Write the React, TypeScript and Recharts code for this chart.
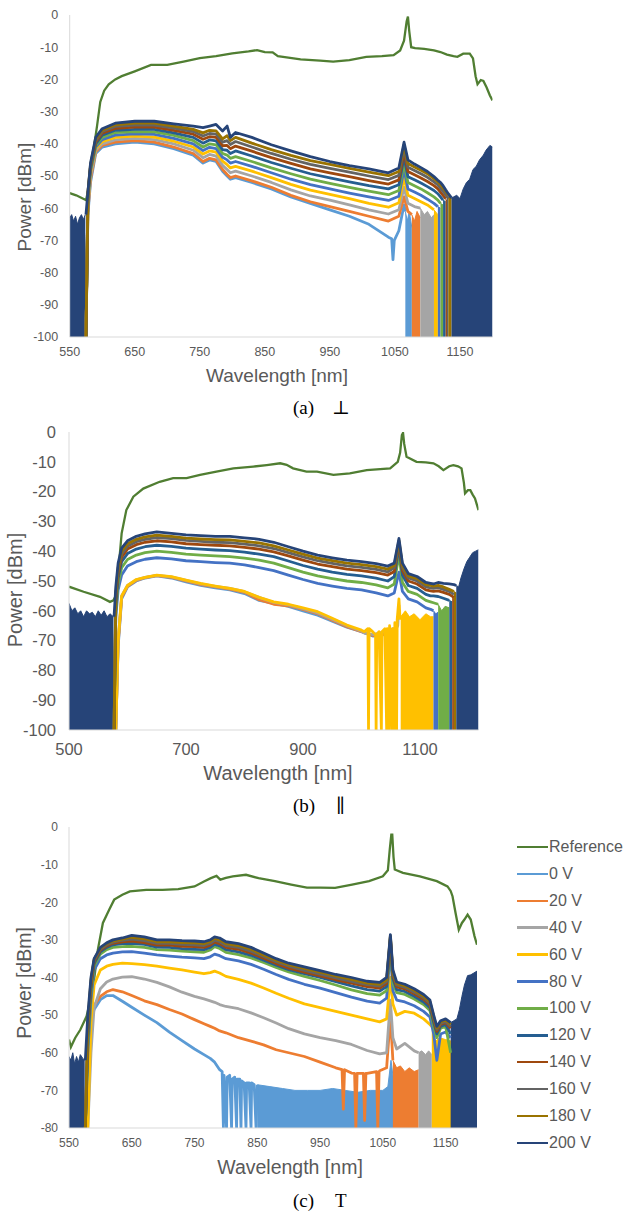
import React from 'react';
import { ComposedChart, Line, Area, XAxis, YAxis } from 'recharts';

type Pair = [number, number];
type Val = number | null;

// ---------- shared ----------
const SERIES = ['0 V', '20 V', '40 V', '60 V', '80 V', '100 V', '120 V', '140 V', '160 V', '180 V', '200 V'];
const SERIES_COLORS = ['#5B9BD5', '#ED7D31', '#A5A5A5', '#FFC000', '#4472C4', '#70AD47', '#255E91', '#9E480E', '#636363', '#997300', '#264478'];
const REF_NAME = 'Reference';
const REF_COLOR = '#507E32';

const X_TICKS_A = [550, 650, 750, 850, 950, 1050, 1150];
const X_TICKS_B = [500, 700, 900, 1100];
const X_TICKS_C = [550, 650, 750, 850, 950, 1050, 1150];
const Y_TICKS_AB = [0, -10, -20, -30, -40, -50, -60, -70, -80, -90, -100];
const Y_TICKS_C = [0, -10, -20, -30, -40, -50, -60, -70, -80];

// ---------- panel (a) ----------
const A_WL = [575, 578, 582, 590, 600, 620, 650, 680, 710, 740, 755, 765, 775, 785, 792, 797, 805, 830, 860, 890, 920, 950, 980, 1010, 1040, 1056, 1064, 1070, 1080, 1090, 1100, 1110, 1116, 1120, 1124, 1128, 1132, 1137];
const A_V0: Val[] = [-100, -62, -52, -43, -41, -40, -39.5, -40, -41.5, -43.5, -46, -45, -45.5, -48.5, -50, -51, -50.5, -52, -54, -56.5, -58.5, -60.5, -62.5, -65, -69, -67, -59];
const A_V20: Val[] = [-100, -61, -51, -42.5, -40.5, -39.5, -39, -39.5, -41, -43, -45.5, -44.5, -45, -48, -49.5, -50.5, -50, -51.5, -53.5, -56, -58, -59.5, -61, -62.5, -64, -62.5, -56.5, -61];
const A_V40: Val[] = [-100, -60, -50, -42, -40, -38.8, -38.3, -38.7, -40, -42, -44.3, -43.3, -43.8, -46.7, -48, -49, -48.5, -50, -52, -54.3, -56.2, -57.5, -59, -60.5, -61.8, -60.5, -53.5, -58.5, -59.5];
const A_V60: Val[] = [-100, -59, -49, -41.5, -39.3, -38, -37.6, -37.9, -39.2, -41, -43.2, -42.2, -42.6, -45.4, -46.5, -47.5, -47, -48.5, -50.5, -52.6, -54.4, -55.7, -57, -58.5, -59.7, -58.3, -50.5, -56, -57, -58, -59, -60.5];
const A_V80: Val[] = [-100, -58, -48.5, -41, -38.7, -37.3, -36.9, -37.1, -38.3, -40, -42.1, -41.1, -41.5, -44.2, -45, -46, -45.5, -47, -49, -51, -52.7, -54, -55.3, -56.5, -57.6, -56.3, -48, -54, -55, -56, -57.2, -58.5, -59.5];
const A_V100: Val[] = [-100, -57, -48, -40.5, -38, -36.5, -36.2, -36.3, -37.4, -39, -41, -40, -40.3, -43, -43.5, -44.5, -44, -45.5, -47.5, -49.3, -51, -52.3, -53.5, -54.7, -55.8, -54.5, -46, -52, -53, -54, -55.2, -56.5, -57.5, -58.5];
const A_V120: Val[] = [-100, -56, -47.5, -40, -37.3, -35.8, -35.5, -35.5, -36.6, -38, -39.8, -38.8, -39.1, -41.8, -42, -43, -42.2, -43.8, -45.8, -47.6, -49.3, -50.6, -51.8, -53, -54, -52.7, -44.2, -50.2, -51.2, -52.2, -53.3, -54.5, -55.5, -56.5, -57.5];
const A_V140: Val[] = [-100, -56, -47, -39.5, -36.7, -35.2, -34.8, -34.8, -35.8, -37, -38.6, -37.8, -38, -40.6, -40.5, -41.5, -40.7, -42.3, -44.3, -46.1, -47.8, -49, -50.2, -51.4, -52.5, -51.2, -42.6, -48.6, -49.6, -50.6, -51.7, -53, -54, -55, -56, -57];
const A_V160: Val[] = [-100, -55, -47, -39, -36.2, -34.6, -34.2, -34.2, -35.1, -36.2, -37.6, -36.8, -37, -39.5, -39, -40.2, -39.3, -41, -43, -44.8, -46.4, -47.6, -48.8, -50, -51.1, -49.8, -41.3, -47.3, -48.3, -49.3, -50.4, -51.8, -52.8, -53.8, -54.8, -55.8, -57];
const A_V180: Val[] = [-100, -55, -46.5, -38.5, -35.8, -34.1, -33.6, -33.6, -34.5, -35.5, -36.6, -35.8, -36, -38.5, -37.5, -39, -38, -39.8, -41.8, -43.6, -45.2, -46.4, -47.6, -48.8, -49.9, -48.6, -40.3, -46.1, -47.2, -48.2, -49.3, -50.8, -51.8, -52.7, -53.7, -54.8, -56];
const A_V200: Val[] = [-62, -55, -46, -38, -35.3, -33.6, -33, -33, -33.8, -34.5, -35, -34.5, -34, -36, -34.5, -38, -36.5, -38, -40.3, -42.2, -44, -45.5, -46.8, -47.8, -49, -47.5, -39.5, -45, -46.3, -47.4, -48.6, -50.2, -51.3, -52, -53, -54.3, -55.5, -56.8];
const A_X0: Pair[] = [[1045, -69.5], [1047, -76], [1049, -70], [1066, -61]];
const A_X20: Pair[] = [[1076, -62]];
const A_X40: Pair[] = [[1089, -60]];
const A_F0: Pair[] = [[1066, -61], [1069, -64], [1072, -61], [1076, -66]];
const A_F20: Pair[] = [[1076, -62], [1080, -64], [1084, -61], [1089, -63]];
const A_F40: Pair[] = [[1089, -60], [1095, -62], [1100, -61], [1106, -63], [1110, -62]];
const A_F60: Pair[] = [[1110, -60.5], [1116, -62]];
const A_F80: Pair[] = [[1116, -59.5], [1120, -60]];
const A_F100: Pair[] = [[1120, -58.5], [1124, -59]];
const A_F120: Pair[] = [[1124, -57.5], [1128, -58]];
const A_F140: Pair[] = [[1128, -57], [1130, -58]];
const A_F160: Pair[] = [[1130, -56.5], [1132, -57]];
const A_F180: Pair[] = [[1132, -56], [1137, -57]];
const A_F200R: Pair[] = [[1137, -56.8], [1140, -56.5], [1145, -56], [1150, -57], [1155, -54], [1160, -52], [1165, -51], [1170, -48], [1175, -47], [1180, -45], [1186, -43.5], [1190, -42], [1196, -40.5], [1200, -41]];
const A_F200L: Pair[] = [[550, -63], [553, -62], [556, -64], [559, -62.5], [562, -65], [565, -63], [568, -62], [571, -63.5], [574, -62]];
const A_REF: Pair[] = [[550, -55.3], [560, -56], [570, -57], [575, -57.5], [580, -53], [584, -47], [588, -40], [592, -34.5], [597, -27], [603, -23.5], [610, -21.5], [620, -20], [630, -19], [650, -17.5], [675, -15.5], [700, -15.5], [725, -14.5], [750, -13.4], [775, -12.8], [800, -11.9], [825, -11.3], [838, -10.9], [850, -11.5], [862, -11.6], [870, -12.8], [878, -13], [905, -13.8], [935, -14.2], [955, -14.5], [980, -14], [1006, -13], [1030, -12.8], [1048, -12.5], [1058, -11], [1064, -8], [1068, -2], [1070, -0.5], [1072, -5], [1075, -10], [1081, -10.3], [1095, -10.5], [1110, -11], [1120, -11.5], [1130, -12.3], [1140, -12.8], [1146, -13], [1155, -12], [1165, -12], [1170, -13.5], [1174, -19], [1177, -21.5], [1182, -20.2], [1186, -20.5], [1191, -22.5], [1196, -25], [1200, -26.5]];

// ---------- panel (b) ----------
const B_WL = [577, 580, 584, 590, 600, 615, 630, 650, 675, 700, 725, 750, 775, 800, 825, 850, 875, 900, 925, 950, 975, 1000, 1025, 1045, 1056, 1064, 1070, 1080, 1095, 1110, 1118, 1123, 1131, 1140, 1150, 1158, 1162];
const B_V0: Val[] = [null, -100, -72, -56, -52, -50, -49, -48.3, -49, -50.3, -51.5, -52.3, -53, -54.2, -56.5, -57.5, -58.5, -60, -61.5, -63.5, -65.5, -67];
const B_V20: Val[] = [null, -100, -71, -55.5, -51.8, -49.8, -48.9, -48.2, -48.8, -50, -51.2, -52, -52.7, -53.8, -56.3, -57.8, -58.3, -59.5, -61, -63.2, -65.3, -67];
const B_V40: Val[] = [null, -100, -70, -55, -51.5, -49.6, -48.8, -48.1, -48.6, -49.8, -51, -51.8, -52.5, -53.6, -55.5, -57.2, -58, -59.3, -60.7, -62.8, -65, -66.8];
const B_V60: Val[] = [null, -100, -70, -55, -51.5, -49.5, -48.8, -48, -48.5, -49.7, -50.8, -51.7, -52.5, -53.5, -55.5, -57, -57.8, -59, -60.3, -62.5, -64.8, -66.5];
const B_V80: Val[] = [-100, -62, -53, -48, -45, -43.5, -42.7, -42.2, -42.6, -43.2, -43.5, -43.8, -44, -44.6, -45.5, -46.5, -48, -49.5, -50.8, -51.7, -52.5, -53, -54, -55, -54, -47, -53.5, -56, -57, -59, -59.5, -60];
const B_V100: Val[] = [-100, -60, -51, -45.5, -42.8, -41.3, -40.5, -40, -40.4, -41, -41.3, -41.6, -41.8, -42.3, -43, -44, -45.5, -47, -48.3, -49.2, -50, -50.5, -51.3, -52.3, -51, -41, -50.5, -53.5, -54.5, -56.5, -57, -57.3, -57.8];
const B_V120: Val[] = [-100, -58, -49, -43.5, -40.8, -39.3, -38.5, -38, -38.4, -39, -39.3, -39.6, -39.8, -40.3, -41, -41.8, -43.3, -44.8, -46, -47, -47.8, -48.3, -49, -50, -48.5, -38.5, -48, -51.5, -52.5, -54.5, -55, -55, -55.2, -55.8, -56.5];
const B_V140: Val[] = [-100, -56, -47.5, -42, -39.3, -37.8, -37, -36.5, -36.9, -37.5, -37.8, -38, -38.2, -38.7, -39.3, -40.2, -41.6, -43, -44.3, -45.2, -46, -46.5, -47.2, -48, -46.8, -37.5, -46.5, -50, -51, -53, -53.3, -53.5, -53.3, -53.8, -54.5, -55.5];
const B_V160: Val[] = [-100, -55, -46.5, -41, -38.3, -36.8, -36, -35.4, -35.8, -36.4, -36.7, -37, -37.1, -37.6, -38.2, -39.1, -40.5, -41.9, -43.2, -44.1, -44.9, -45.4, -46.1, -46.9, -45.6, -37, -45.5, -49, -50, -52, -52.3, -52.5, -52.2, -52.8, -53.5, -54.5];
const B_V180: Val[] = [-100, -54, -45.5, -40, -37.5, -36, -35.2, -34.6, -35, -35.6, -35.9, -36.1, -36.2, -36.7, -37.2, -38.2, -39.6, -41, -42.3, -43.2, -44, -44.5, -45.2, -46, -44.8, -36.4, -44.8, -48.3, -49.2, -51.2, -51.5, -51.7, -51.5, -52, -52.8, -53.5];
const B_V200: Val[] = [-62, -52, -44, -39, -36.5, -35, -34.2, -33.5, -34, -34.5, -34.8, -35, -35, -35.5, -36, -37, -38.5, -40, -41.3, -42.2, -43, -43.5, -44.2, -45, -44, -35.7, -44, -47.5, -48.5, -50.5, -50.8, -51, -50.5, -50.8, -51, -51.2, -51.5];
const B_X0: Pair[] = [[1020, -68.5], [1040, -68]];
const B_X20: Pair[] = [[1020, -68.3], [1040, -67.8]];
const B_X40: Pair[] = [[1005, -67.5], [1020, -68], [1040, -67], [1055, -66], [1058, -100], [1059, -66], [1062, -65], [1064, -58]];
const B_X60: Pair[] = [[1005, -67], [1011, -66], [1012, -100], [1013, -66], [1019, -67], [1024, -68], [1025, -100], [1026, -68], [1030, -67], [1034, -100], [1035, -67], [1040, -66], [1043, -100], [1044, -66], [1047, -100], [1048, -65], [1052, -100], [1053, -66], [1056, -100], [1057, -64], [1060, -100], [1061, -63], [1064, -56], [1066, -63]];
const B_F60: Pair[] = [[1067, -62], [1075, -60], [1082, -62], [1090, -61], [1100, -63], [1110, -61], [1118, -62], [1123, -62]];
const B_F80: Pair[] = [[1123, -60], [1127, -61], [1131, -60.5]];
const B_F100: Pair[] = [[1131, -57.8], [1137, -60], [1143, -58.5], [1150, -59]];
const B_F120: Pair[] = [[1150, -56.5], [1155, -57]];
const B_F140: Pair[] = [[1155, -55], [1158, -56]];
const B_F180: Pair[] = [[1158, -53.5], [1162, -54]];
const B_F200R: Pair[] = [[1162, -51.5], [1166, -52], [1170, -49], [1175, -46], [1180, -43.5], [1185, -42], [1190, -40.5], [1195, -40], [1200, -39.5]];
const B_F200L: Pair[] = [[500, -57.5], [505, -60], [510, -59], [515, -61], [520, -60], [525, -62], [530, -60], [535, -61], [540, -60.5], [545, -62], [550, -60], [555, -61.5], [560, -60], [565, -62], [570, -61], [576, -62]];
const B_REF: Pair[] = [[500, -51.9], [525, -53.6], [553, -55.3], [570, -57], [576, -56.5], [579, -55.3], [584, -47.4], [590, -34], [598, -26.2], [610, -21.7], [627, -19], [655, -16.7], [678, -15.5], [701, -15.5], [724, -14.4], [752, -13.3], [781, -12.2], [815, -11.6], [838, -11.1], [861, -10.5], [872, -11], [883, -12.2], [906, -13.3], [924, -13.3], [952, -14.4], [980, -13.9], [1009, -12.8], [1049, -12.2], [1062, -10], [1066, -7], [1069, -1], [1071, -0.3], [1073, -4], [1077, -8.3], [1094, -10], [1110, -10.2], [1123, -10.5], [1132, -11.5], [1140, -12.8], [1150, -11.5], [1157, -11.1], [1165, -11.5], [1171, -12.2], [1175, -17], [1177, -20.6], [1182, -19.5], [1186, -19.5], [1190, -21], [1194, -22.3], [1200, -26.2]];

// ---------- panel (c) ----------
const C_WL = [576, 580, 585, 590, 600, 610, 620, 635, 650, 670, 690, 710, 730, 750, 765, 775, 782, 790, 800, 820, 840, 860, 880, 900, 925, 950, 975, 1000, 1025, 1045, 1056, 1062, 1066, 1072, 1085, 1100, 1115, 1125, 1131, 1136, 1142, 1150, 1158];
const C_V0: Val[] = [-80, -62, -52, -48.5, -45.9, -44.8, -44.8, -46.3, -47.9, -50, -52, -54.5, -56.8, -59, -60.5, -61.5, -62.5, -64.5];
const C_V20: Val[] = [-80, -62, -52, -47.5, -45, -43.8, -43.2, -43.8, -44.8, -46.2, -47.2, -48.5, -49.7, -51.2, -52.3, -53, -53.5, -54.2, -54.7, -56, -56.9, -57.9, -59.2, -60, -61, -62.5, -64, -65.4, -65.5, -64.8, -64, -50.3, -62];
const C_V40: Val[] = [null, -80, -60, -48, -43, -41.2, -40.4, -39.9, -39.8, -40.4, -41.3, -42.5, -43.9, -45, -45.7, -46.2, -46.6, -47.2, -47.7, -48.3, -49.4, -50.7, -52.1, -53.6, -55, -56, -56.8, -57.8, -59.4, -60.3, -60, -46, -56, -59, -57.5, -59.5];
const C_V60: Val[] = [null, -80, -52, -42, -38, -37, -36.5, -36.2, -36.3, -36.6, -37, -37.5, -38, -38.6, -39, -38.7, -38.3, -38.8, -39.7, -40.5, -41.5, -42.8, -44.2, -45.5, -47, -48, -49, -50, -51, -51.8, -51, -40, -47, -50, -49, -49.5, -51, -52.5];
const C_V80: Val[] = [-80, -60, -46, -38, -35, -34, -33.5, -33.2, -33.1, -33.5, -34, -34.3, -34.6, -34.8, -35, -34.5, -33.8, -34.2, -35, -35.6, -36.5, -37.8, -39.2, -40.5, -41.8, -42.8, -44, -45.2, -46.3, -46.8, -45.5, -33, -43.5, -46, -46.5, -47.5, -49, -50.5, -55, -62, -55, -54.5, -56];
const C_V100: Val[] = [-80, -58, -44, -37, -33.8, -32.6, -32, -31.8, -31.7, -32, -32.6, -32.7, -33, -33.2, -33.3, -32.7, -31.8, -32.3, -33.3, -33.9, -34.8, -36, -37.3, -38.5, -39.7, -40.8, -42, -43.3, -44.3, -44.7, -43.5, -31, -41.5, -44, -44.5, -45.7, -47.2, -48.8, -53, -56, -53.5, -53, -60];
const C_V120: Val[] = [-80, -56, -43, -36.3, -33.2, -32, -31.3, -31, -30.9, -31.2, -31.9, -32, -32.3, -32.5, -32.6, -32, -31.2, -31.6, -32.6, -33.2, -34.1, -35.4, -36.7, -37.9, -39, -40, -41.1, -42.2, -43.2, -43.6, -42.4, -30, -40.3, -43.2, -43.7, -45, -46.5, -48, -52, -55, -53, -52.5, -55];
const C_V140: Val[] = [-80, -54, -42, -35.8, -32.8, -31.6, -30.9, -30.5, -30.3, -30.7, -31.4, -31.4, -31.7, -31.8, -32, -31.4, -30.6, -31, -32, -32.5, -33.5, -34.9, -36.3, -37.5, -38.6, -39.6, -40.6, -41.5, -42.4, -42.8, -41.6, -29.6, -39.6, -42.5, -43, -44.3, -45.8, -47.3, -51.2, -54.3, -52.5, -52, -53.5];
const C_V160: Val[] = [-80, -53, -41.3, -35.5, -32.5, -31.3, -30.6, -30.1, -29.8, -30.2, -30.9, -30.9, -31.2, -31.3, -31.5, -30.9, -30.1, -30.5, -31.5, -32, -33, -34.4, -35.8, -37, -38.1, -39.1, -40.1, -41, -41.9, -42.3, -41.1, -29.2, -39.1, -42, -42.6, -43.9, -45.4, -46.9, -50.8, -53.8, -52.2, -51.7, -53];
const C_V180: Val[] = [-80, -51.5, -40.7, -35.2, -32.2, -31, -30.3, -29.8, -29.3, -29.7, -30.5, -30.5, -30.7, -30.8, -31, -30.4, -29.6, -30, -31, -31.5, -32.5, -34, -35.4, -36.6, -37.6, -38.6, -39.6, -40.5, -41.5, -41.8, -40.6, -28.9, -38.6, -41.6, -42.2, -43.4, -45, -46.4, -50.4, -53.4, -51.8, -51.3, -52.5];
const C_V200: Val[] = [-62, -50, -40, -35, -32, -30.8, -30, -29.5, -28.8, -29.2, -30, -30, -30.2, -30.3, -30.5, -30, -29.2, -29.5, -30.5, -31, -32, -33.5, -35, -36.2, -37.2, -38.2, -39.2, -40, -41, -41.3, -40, -28.6, -38, -41.2, -41.8, -43, -44.5, -46, -50, -53, -51.5, -51, -52];
const C_X0: Pair[] = [[794, -65], [796, -80], [797, -66], [801, -80], [802, -66.5], [806, -66], [809, -80], [810, -67], [814, -66.5], [817, -80], [818, -67], [822, -67], [824, -80], [825, -67.5], [829, -68], [832, -80], [833, -68], [837, -68], [840, -80], [841, -68], [845, -68.5], [848, -80], [850, -68.5]];
const C_X20: Pair[] = [[985, -64.5], [987, -75], [989, -64.5], [1005, -65.5], [1007, -80], [1009, -65.5], [1019, -65.5], [1021, -78], [1023, -65.5], [1040, -65], [1042, -80], [1044, -65]];
const C_X40: Pair[] = [[1107, -60]];
const C_X60: Pair[] = [[1128, -53]];
const C_F0: Pair[] = [[850, -68.5], [870, -69], [890, -69.5], [910, -70], [930, -70], [950, -70], [970, -69.5], [990, -70], [1010, -70.5], [1030, -70], [1050, -70], [1058, -69], [1063, -62], [1066, -66], [1072, -70], [1082, -70]];
const C_F20: Pair[] = [[1066, -62], [1072, -64], [1078, -63.5], [1085, -65], [1092, -64], [1100, -65], [1107, -64.5]];
const C_F40: Pair[] = [[1107, -60], [1112, -59.5], [1118, -60.5], [1123, -59.5], [1128, -60.5]];
const C_F60: Pair[] = [[1128, -53], [1134, -57], [1140, -56], [1150, -56.5], [1161, -57]];
const C_F200R: Pair[] = [[1158, -52], [1163, -51.5], [1168, -51], [1172, -48.5], [1176, -45], [1180, -42], [1185, -39.5], [1190, -39.3], [1195, -38.8], [1200, -38.3]];
const C_F200L: Pair[] = [[550, -61], [553, -62], [556, -60], [559, -63], [562, -61], [565, -62.5], [568, -60.5], [572, -61.5], [575, -62]];
const C_REF: Pair[] = [[550, -56.5], [553, -58.5], [556, -57.4], [560, -56], [568, -53.9], [578, -50.3], [588, -43.2], [596, -32.6], [604, -25.5], [614, -22], [622, -19.3], [635, -18], [647, -17.1], [673, -16.7], [699, -16.7], [724, -16.5], [750, -15.8], [765, -14.5], [776, -13.6], [785, -13], [791, -14], [800, -13.5], [811, -13.1], [832, -12.7], [852, -13.6], [878, -14.4], [904, -15.3], [929, -16.1], [950, -16.1], [974, -16.2], [1001, -15.3], [1028, -14.4], [1050, -13.1], [1058, -11.5], [1061, -6], [1063.5, -2], [1065, -2], [1067, -8], [1069, -11.3], [1082, -12.2], [1109, -13.1], [1136, -14.4], [1153, -15.8], [1158, -17], [1161, -18.4], [1166, -23], [1171, -27.3], [1176, -25.5], [1180, -24.6], [1185, -23.3], [1190, -24.6], [1196, -29], [1200, -31.3]];

// ---------- build rows ----------
type Row = { wl: number; [k: string]: number };

function buildRows(
  grid: number[],
  lines: Val[][],
  extras: (Pair[] | null)[],
  fills: (Pair[] | null)[],
  leftFill: Pair[],
  ref: Pair[]
): Row[] {
  const map = new Map<number, Row>();
  const put = (wl: number, key: string, v: number) => {
    let r = map.get(wl);
    if (!r) {
      r = { wl };
      map.set(wl, r);
    }
    r[key] = v;
  };
  ref.forEach(([w, v]) => put(w, 'ref', v));
  lines.forEach((vals, i) => {
    vals.forEach((v, j) => {
      if (v !== null && v !== undefined && j < grid.length) put(grid[j], 'l' + i, v);
    });
    (extras[i] || []).forEach(([w, v]) => put(w, 'l' + i, v));
  });
  fills.forEach((f, i) => (f || []).forEach(([w, v]) => put(w, 'f' + i, v)));
  leftFill.forEach(([w, v]) => put(w, 'fl', v));
  return Array.from(map.values()).sort((a, b) => a.wl - b.wl);
}

const A_ROWS = buildRows(
  A_WL,
  [A_V0, A_V20, A_V40, A_V60, A_V80, A_V100, A_V120, A_V140, A_V160, A_V180, A_V200],
  [A_X0, A_X20, A_X40, null, null, null, null, null, null, null, null],
  [A_F0, A_F20, A_F40, A_F60, A_F80, A_F100, A_F120, A_F140, A_F160, A_F180, A_F200R],
  A_F200L,
  A_REF
);
const A_HASFILL = [true, true, true, true, true, true, true, true, true, true, true];

const B_ROWS = buildRows(
  B_WL,
  [B_V0, B_V20, B_V40, B_V60, B_V80, B_V100, B_V120, B_V140, B_V160, B_V180, B_V200],
  [B_X0, B_X20, B_X40, B_X60, null, null, null, null, null, null, null],
  [null, null, null, B_F60, B_F80, B_F100, B_F120, B_F140, null, B_F180, B_F200R],
  B_F200L,
  B_REF
);
const B_HASFILL = [false, false, false, true, true, true, true, true, false, true, true];

const C_ROWS = buildRows(
  C_WL,
  [C_V0, C_V20, C_V40, C_V60, C_V80, C_V100, C_V120, C_V140, C_V160, C_V180, C_V200],
  [C_X0, C_X20, C_X40, C_X60, null, null, null, null, null, null, null],
  [C_F0, C_F20, C_F40, C_F60, null, null, null, null, null, null, C_F200R],
  C_F200L,
  C_REF
);
const C_HASFILL = [true, true, true, true, false, false, false, false, false, false, true];

const SANS = '"Liberation Sans", Arial, Helvetica, sans-serif';
const SERIF = '"Liberation Serif", "Times New Roman", "DejaVu Serif", serif';
const AXIS_GRAY = '#D9D9D9';
const TEXT_GRAY = '#595959';

type PanelProps = {
  rows: Row[];
  hasFill: boolean[];
  top: number;
  width: number;
  height: number;
  marginTop: number;
  marginRight: number;
  yWidth: number;
  xHeight: number;
  xDomain: [number, number];
  xTicks: number[];
  yDomain: [number, number];
  yTicks: number[];
  fontSize: number;
  xTickMargin: number;
  yTickMargin: number;
};

function Panel(p: PanelProps) {
  const base = p.yDomain[0];
  const items: React.ReactNode[] = [];
  items.push(
    <Line key="ref" dataKey="ref" name={REF_NAME} type="linear" stroke={REF_COLOR} strokeWidth={2.3}
      dot={false} activeDot={false} isAnimationActive={false} connectNulls legendType="none" />
  );
  SERIES.forEach((name, i) => {
    const c = SERIES_COLORS[i];
    if (i === SERIES.length - 1) {
      items.push(
        <Area key="fl" dataKey="fl" type="linear" fill={c} fillOpacity={1} stroke={c} strokeWidth={1}
          baseValue={base} dot={false} activeDot={false} isAnimationActive={false} connectNulls legendType="none" />
      );
    }
    if (p.hasFill[i]) {
      items.push(
        <Area key={'f' + i} dataKey={'f' + i} type="linear" fill={c} fillOpacity={1} stroke={c} strokeWidth={1}
          baseValue={base} dot={false} activeDot={false} isAnimationActive={false} connectNulls legendType="none" />
      );
    }
    items.push(
      <Line key={'l' + i} dataKey={'l' + i} name={name} type="linear" stroke={c} strokeWidth={2.8}
        strokeLinejoin="round" dot={false} activeDot={false} isAnimationActive={false} connectNulls legendType="none" />
    );
  });
  const tickStyle = { fontSize: p.fontSize, fill: TEXT_GRAY, fontFamily: SANS };
  return (
    <div style={{ position: 'absolute', left: 0, top: p.top }}>
      <ComposedChart width={p.width} height={p.height} data={p.rows}
        margin={{ top: p.marginTop, right: p.marginRight, bottom: 0, left: 0 }}>
        <XAxis dataKey="wl" type="number" domain={p.xDomain} ticks={p.xTicks} interval={0}
          allowDataOverflow height={p.xHeight} axisLine={{ stroke: AXIS_GRAY, strokeWidth: 1 }}
          tickLine={false} tickSize={0} tickMargin={p.xTickMargin} tick={tickStyle} />
        <YAxis type="number" domain={p.yDomain} ticks={p.yTicks} interval={0}
          allowDataOverflow width={p.yWidth} axisLine={{ stroke: AXIS_GRAY, strokeWidth: 1 }}
          tickLine={false} tickSize={0} tickMargin={p.yTickMargin} tick={tickStyle} />
        {items}
      </ComposedChart>
    </div>
  );
}

function CenterText(props: { x: number; y: number; size: number; rotate?: boolean; children: React.ReactNode; font?: string; color?: string }) {
  return (
    <div style={{
      position: 'absolute', left: props.x, top: props.y, whiteSpace: 'nowrap',
      transform: `translate(-50%, -50%)${props.rotate ? ' rotate(-90deg)' : ''}`,
      fontSize: props.size, fontFamily: props.font || SANS, color: props.color || TEXT_GRAY, lineHeight: 1,
    }}>{props.children}</div>
  );
}

function Caption(props: { y: number; label: string; sym: string; symX: number }) {
  const st: React.CSSProperties = { position: 'absolute', top: props.y, transform: 'translateY(-50%)', fontFamily: SERIF, fontSize: 19, color: '#000', lineHeight: 1, whiteSpace: 'nowrap' };
  return (
    <>
      <div style={{ ...st, left: 293 }}>{props.label}</div>
      <div style={{ ...st, left: props.symX }}>{props.sym}</div>
    </>
  );
}

function LegendBox() {
  const entries = [{ name: REF_NAME, color: REF_COLOR }, ...SERIES.map((s, i) => ({ name: s, color: SERIES_COLORS[i] }))];
  return (
    <>
      {entries.map((e, i) => {
        const cy = 847 + i * 26.9;
        return (
          <div key={e.name} style={{ position: 'absolute', left: 517, top: cy - 10, height: 20, display: 'flex', alignItems: 'center' }}>
            <div style={{ width: 31, height: 2.5, background: e.color }} />
            <div style={{ marginLeft: 1, fontFamily: SANS, fontSize: 16, color: TEXT_GRAY, lineHeight: 1 }}>{e.name}</div>
          </div>
        );
      })}
    </>
  );
}

export default function App() {
  return (
    <div style={{ position: 'absolute', left: 0, top: 0, width: 627, height: 1216, background: '#fff', overflow: 'hidden' }}>
      <Panel rows={A_ROWS} hasFill={A_HASFILL} top={0} width={500} height={392} marginTop={15} marginRight={7.5}
        yWidth={69.7} xHeight={55} xDomain={[550, 1200]} xTicks={X_TICKS_A} yDomain={[-100, 0]} yTicks={Y_TICKS_AB}
        fontSize={12.5} xTickMargin={10} yTickMargin={11.5} />
      <CenterText x={24} y={197} size={19} rotate>Power [dBm]</CenterText>
      <CenterText x={277} y={375} size={19}>Wavelength [nm]</CenterText>
      <Caption y={407} label="(a)" sym="⊥" symX={332} />

      <Panel rows={B_ROWS} hasFill={B_HASFILL} top={400} width={486} height={380} marginTop={32} marginRight={7.5}
        yWidth={69} xHeight={50} xDomain={[500, 1200]} xTicks={X_TICKS_B} yDomain={[-100, 0]} yTicks={Y_TICKS_AB}
        fontSize={16.5} xTickMargin={13} yTickMargin={13} />
      <CenterText x={15} y={590} size={20} rotate>Power [dBm]</CenterText>
      <CenterText x={278} y={773} size={20}>Wavelength [nm]</CenterText>
      <Caption y={805} label="(b)" sym="∥" symX={336} />

      <Panel rows={C_ROWS} hasFill={C_HASFILL} top={800} width={484} height={360} marginTop={27} marginRight={7}
        yWidth={69} xHeight={32} xDomain={[550, 1200]} xTicks={X_TICKS_C} yDomain={[-80, 0]} yTicks={Y_TICKS_C}
        fontSize={12} xTickMargin={10} yTickMargin={11} />
      <CenterText x={25} y={983} size={19.5} rotate>Power [dBm]</CenterText>
      <CenterText x={290} y={1168} size={19.5}>Wavelength [nm]</CenterText>
      <Caption y={1200} label="(c)" sym="T" symX={335} />
      <LegendBox />
    </div>
  );
}
